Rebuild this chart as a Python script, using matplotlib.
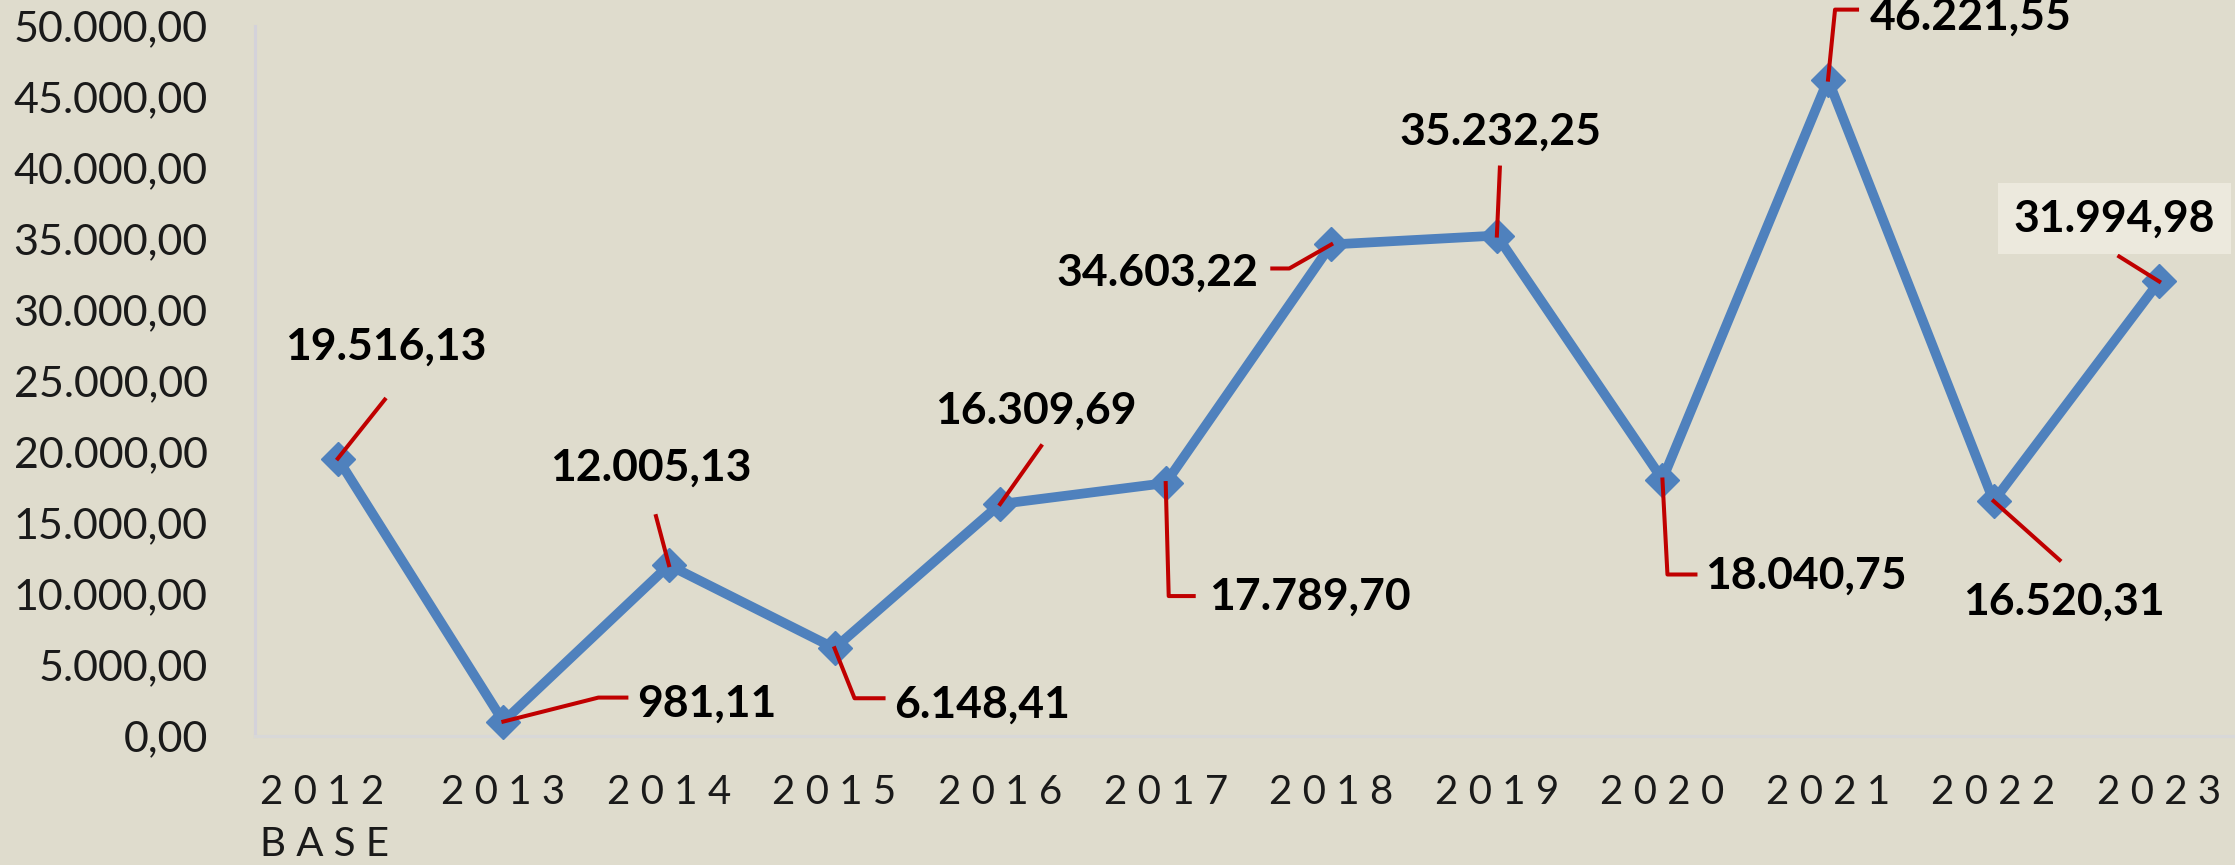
import numpy as np
import matplotlib.pyplot as plt
from matplotlib.ticker import FuncFormatter
from matplotlib.transforms import IdentityTransform

# Dados da série
anos = ['2 0 1 2   \nB A S E', '2 0 1 3', '2 0 1 4', '2 0 1 5', '2 0 1 6', '2 0 1 7',
        '2 0 1 8', '2 0 1 9', '2 0 2 0', '2 0 2 1', '2 0 2 2', '2 0 2 3']
valores = [19516.13, 981.11, 12005.13, 6148.41, 16309.69, 17789.70,
           34603.22, 35232.25, 18040.75, 46221.55, 16520.31, 31994.98]

# posição dos rótulos (pixels relativos ao ponto, y para cima) e alinhamento
rot_offset = [(48, 99), (134, 5), (-18, 84), (60, -69), (36, 80), (43, -127),
              (-73, -41), (4, 91), (43, -109), (42, 50), (70, -114), (-45, 50)]
rot_ha = ['center', 'left', 'center', 'left', 'center', 'left',
          'right', 'center', 'left', 'left', 'center', 'center']
# linhas de chamada (pixels relativos ao ponto)
chamadas = [
    [(0, 0), (47, 59)],
    [(0, 0), (95, 24), (123, 24)],
    [(0, 0), (-13, 49)],
    [(0, 0), (20, -50), (49, -50)],
    [(0, 0), (41, 58)],
    [(0, 0), (3, -113), (28, -113)],
    [(0, 0), (-42, -24), (-59, -24)],
    [(0, 0), (3, 68)],
    [(0, 0), (5, -95), (33, -95)],
    [(0, 0), (7, 70), (29, 70)],
    [(0, 0), (66, -59)],
    [(0, 0), (-40, 25)],
]

fundo = '#DFDCCD'
azul = '#4F81BD'
vermelho = '#C00000'

plt.rcParams['font.family'] = ['Lato', 'DejaVu Sans']

W, H = 2235, 865
fig = plt.figure(figsize=(W / 100, H / 100), dpi=100, facecolor=fundo)
ax = fig.add_axes([255 / W, (H - 735.5) / H, (2242 - 255) / W, (735.5 - 26) / H])
ax.set_facecolor(fundo)

x = np.arange(len(valores))
ax.plot(x, valores, color=azul, linewidth=7, marker='D', markersize=17,
        markerfacecolor=azul, markeredgecolor=azul, zorder=3, clip_on=False)

ax.set_xlim(-0.5, len(valores) - 0.5)
ax.set_ylim(0, 50000)
ax.set_yticks(np.arange(0, 50001, 5000))
ax.yaxis.set_major_formatter(FuncFormatter(
    lambda v, p: f'{v:,.2f}'.replace(',', 'X').replace('.', ',').replace('X', '.')))
ax.set_xticks(x)
ax.set_xticklabels(anos, fontsize=29, color='#1a1a1a', linespacing=1.5)
for t in ax.get_xticklabels():
    t.set_multialignment('left')
ax.tick_params(axis='y', length=0, pad=34, labelsize=31, labelcolor='#1a1a1a')
ax.tick_params(axis='x', length=0, pad=28)

for s in ['top', 'right']:
    ax.spines[s].set_visible(False)
ax.spines['left'].set_color('#D4D2DA')
ax.spines['left'].set_linewidth(2.2)
ax.spines['bottom'].set_color('#D8D8D8')
ax.spines['bottom'].set_linewidth(2.2)

fig.canvas.draw()

def fmt(v):
    return f'{v:,.2f}'.replace(',', 'X').replace('.', ',').replace('X', '.')

for i, v in enumerate(valores):
    px, py = ax.transData.transform((i, v))
    pts = np.array([(px + dx, py + dy) for dx, dy in chamadas[i]])
    ax.plot(pts[:, 0], pts[:, 1], color=vermelho, linewidth=2.9,
            transform=IdentityTransform(), zorder=4, clip_on=False)
    dx, dy = rot_offset[i]
    caixa = None
    if i == len(valores) - 1:
        caixa = dict(boxstyle='square,pad=0.35', facecolor='#ECE9DD', edgecolor='none')
    ax.annotate(fmt(v), xy=(i, v), xytext=(dx, dy), textcoords='offset pixels',
                ha=rot_ha[i], va='baseline', fontsize=32, fontweight='bold',
                color='black', bbox=caixa, zorder=5, annotation_clip=False)

fig.savefig('out.png', dpi=100, facecolor=fundo)
